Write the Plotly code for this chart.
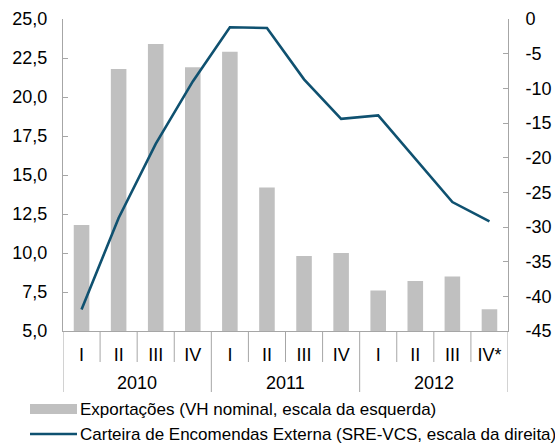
import plotly.graph_objects as go

years = ["2010"] * 4 + ["2011"] * 4 + ["2012"] * 4
quarters = ["I", "II", "III", "IV", "I", "II", "III", "IV", "I", "II", "III", "IV*"]
exportacoes = [11.8, 21.8, 23.4, 21.9, 22.9, 14.2, 9.8, 10.0, 7.6, 8.2, 8.5, 6.4]
carteira = [-41.9, -28.7, -18.0, -9.0, -1.2, -1.3, -8.7, -14.4, -13.9, -20.1, -26.4, -29.2]

left_ticks = [5.0, 7.5, 10.0, 12.5, 15.0, 17.5, 20.0, 22.5, 25.0]
left_labels = ["5,0", "7,5", "10,0", "12,5", "15,0", "17,5", "20,0", "22,5", "25,0"]
right_ticks = [0, -5, -10, -15, -20, -25, -30, -35, -40, -45]
right_labels = ["0", "-5", "-10", "-15", "-20", "-25", "-30", "-35", "-40", "-45"]

name_bar = "Exportações (VH nominal, escala da esquerda)"
name_line = "Carteira de Encomendas Externa (SRE-VCS, escala da direita)"

BAR_C = "#C0C0C0"
LINE_C = "#0F5170"
AX_C = "#A6A6A6"
FONT = "Liberation Sans, Arial, sans-serif"

idx = list(range(len(quarters)))

fig = go.Figure()
fig.add_trace(go.Bar(x=idx, y=exportacoes, name=name_bar, width=0.42,
                     marker=dict(color=BAR_C, line=dict(width=0)), showlegend=False))
fig.add_trace(go.Scatter(x=idx, y=carteira, name=name_line, yaxis="y2",
                         mode="lines", line=dict(color=LINE_C, width=2.6), showlegend=False))

W, H = 555, 446
ml, mr, mt, mb = 63, 47, 19, 115

fig.update_layout(
    width=W, height=H,
    margin=dict(l=ml, r=mr, t=mt, b=mb, pad=0, autoexpand=False),
    paper_bgcolor="white", plot_bgcolor="white",
    font=dict(family=FONT, color="#000000", size=18),
    xaxis=dict(
        range=[-0.5, len(quarters) - 0.5], tickvals=idx, ticktext=quarters,
        showgrid=False, zeroline=False, automargin=False,
        showline=True, linecolor=AX_C, linewidth=1, ticks="",
        ticklabelstandoff=7,
        tickfont=dict(family=FONT, size=18, color="#000"),
    ),
    yaxis=dict(
        range=[5, 25], tickvals=left_ticks, ticktext=left_labels,
        showgrid=False, zeroline=False, showline=True, linecolor=AX_C, linewidth=1,
        ticks="inside", ticklen=5, tickcolor=AX_C, automargin=False,
        ticklabelstandoff=11,
        tickfont=dict(family=FONT, size=18, color="#000"),
    ),
    yaxis2=dict(
        range=[-45, 0], tickvals=right_ticks, ticktext=right_labels,
        overlaying="y", side="right", automargin=False,
        showgrid=False, zeroline=False, showline=True, linecolor=AX_C, linewidth=1,
        ticks="inside", ticklen=5, tickcolor=AX_C,
        ticklabelstandoff=13,
        tickfont=dict(family=FONT, size=18, color="#000"),
    ),
)

pw = W - ml - mr
ph = H - mt - mb
def px(xp):
    return (xp - ml) / pw
def py(yp):
    return (H - mb - yp) / ph

# quarter separators and year dividers on the category axis
for i in range(1, len(quarters)):
    long_div = years[i] != years[i - 1]
    fig.add_shape(type="line", xref="x", yref="paper", x0=i - 0.5, x1=i - 0.5,
                  y0=0, y1=py(392 if long_div else 362),
                  line=dict(color=AX_C, width=1))
for xe in (-0.5, len(quarters) - 0.5):
    fig.add_shape(type="line", xref="x", yref="paper", x0=xe, x1=xe,
                  y0=0, y1=py(392), line=dict(color=AX_C, width=1))

# year labels centred under their quarters
for yr in dict.fromkeys(years):
    pos = [i for i, y in enumerate(years) if y == yr]
    fig.add_annotation(xref="x", yref="paper", x=sum(pos) / len(pos), y=py(383),
                       text=yr, showarrow=False, xanchor="center", yanchor="middle",
                       font=dict(family=FONT, size=18, color="#000"))

# legend
fig.add_shape(type="rect", xref="paper", yref="paper",
              x0=px(30), x1=px(77), y0=py(414), y1=py(404),
              fillcolor=BAR_C, line=dict(width=0))
fig.add_shape(type="line", xref="paper", yref="paper",
              x0=px(30), x1=px(77), y0=py(434), y1=py(434),
              line=dict(color=LINE_C, width=2.6))
fig.add_annotation(xref="paper", yref="paper", x=px(78), y=py(409), text=name_bar,
                   showarrow=False, xanchor="left", yanchor="middle",
                   font=dict(family=FONT, size=17, color="#000"))
fig.add_annotation(xref="paper", yref="paper", x=px(78), y=py(434), text=name_line,
                   showarrow=False, xanchor="left", yanchor="middle",
                   font=dict(family=FONT, size=17, color="#000"))

fig.write_html("out.html", config={"displayModeBar": False},
               post_script="document.body.style.margin='0';")
